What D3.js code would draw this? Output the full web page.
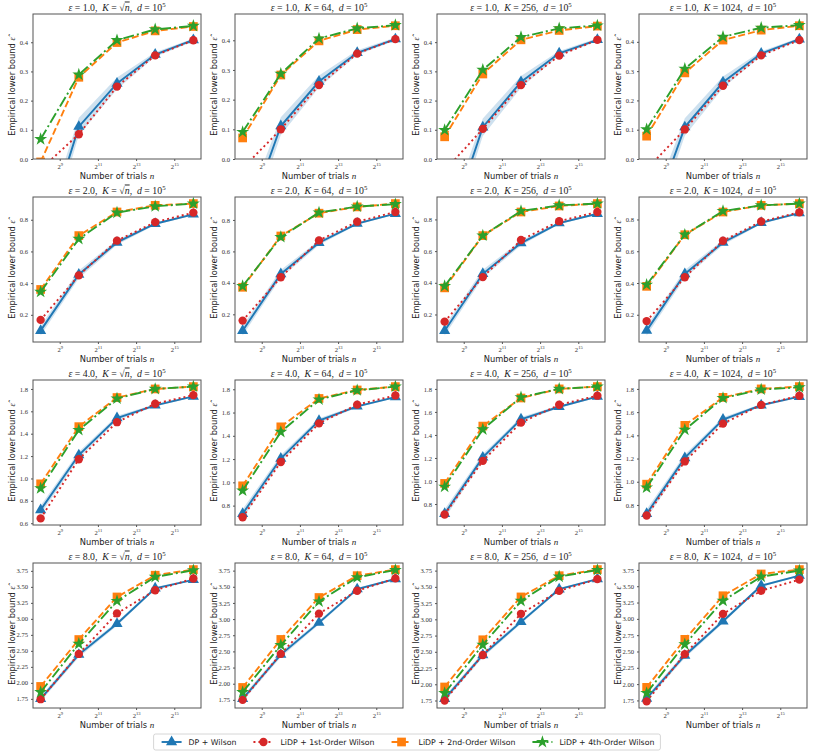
<!DOCTYPE html>
<html>
<head>
<meta charset="utf-8">
<script src="https://cdn.jsdelivr.net/npm/d3@7"></script>
<style>
body{margin:0;background:#fff}
svg{display:block}
.serif{font-family:"Liberation Serif","DejaVu Serif",serif}
.sans{font-family:"DejaVu Sans",sans-serif}
.title{white-space:pre}
</style>
</head>
<body>
<svg id="grid"></svg>
<script>
// number of trials n (x values, log2 axis)
var trials = [256, 1024, 4096, 16384, 65536];
var xTickPowers = [9, 11, 13, 15];

var epsilons = ["1.0", "2.0", "4.0", "8.0"];
var kLabels = ["sqrt", "64", "256", "1024"];

var seriesNames = ["DP + Wilson", "LiDP + 1st-Order Wilson", "LiDP + 2nd-Order Wilson", "LiDP + 4th-Order Wilson"];

// values[row = epsilon][col = K] -> 5 points
var dpWilson = [
  [[-0.31, 0.111, 0.259, 0.358, 0.408], [-0.25, 0.111, 0.261, 0.358, 0.404], [-0.28, 0.109, 0.264, 0.362, 0.408], [-0.254, 0.109, 0.262, 0.36, 0.409]],
  [[0.10, 0.455, 0.657, 0.775, 0.834], [0.096, 0.457, 0.655, 0.777, 0.84], [0.098, 0.457, 0.651, 0.777, 0.836], [0.10, 0.457, 0.655, 0.779, 0.84]],
  [[0.719, 1.209, 1.54, 1.653, 1.733], [0.73, 1.205, 1.53, 1.653, 1.733], [0.715, 1.205, 1.536, 1.645, 1.733], [0.724, 1.205, 1.536, 1.659, 1.733]],
  [[1.75, 2.441, 2.923, 3.478, 3.609], [1.766, 2.451, 2.945, 3.464, 3.62], [1.776, 2.451, 2.961, 3.464, 3.62], [1.781, 2.439, 2.964, 3.508, 3.663]]
];
var lidpFirst = [
  [[-0.035, 0.085, 0.248, 0.355, 0.407], [-0.031, 0.10, 0.249, 0.355, 0.404], [-0.04, 0.103, 0.253, 0.354, 0.408], [-0.035, 0.101, 0.25, 0.354, 0.406]],
  [[0.168, 0.449, 0.668, 0.785, 0.845], [0.16, 0.436, 0.67, 0.789, 0.851], [0.155, 0.436, 0.67, 0.789, 0.847], [0.16, 0.436, 0.666, 0.787, 0.845]],
  [[0.643, 1.172, 1.503, 1.668, 1.745], [0.70, 1.175, 1.507, 1.668, 1.747], [0.709, 1.175, 1.507, 1.662, 1.741], [0.709, 1.175, 1.501, 1.662, 1.741]],
  [[1.745, 2.452, 3.086, 3.447, 3.63], [1.75, 2.462, 3.085, 3.438, 3.63], [1.75, 2.451, 3.085, 3.438, 3.62], [1.735, 2.459, 3.076, 3.431, 3.601]]
];
var lidpSecond = [
  [[-0.01, 0.28, 0.399, 0.439, 0.454], [0.071, 0.283, 0.398, 0.436, 0.449], [0.076, 0.291, 0.408, 0.44, 0.455], [0.078, 0.294, 0.406, 0.44, 0.455]],
  [[0.36, 0.70, 0.849, 0.891, 0.902], [0.372, 0.698, 0.843, 0.883, 0.904], [0.368, 0.698, 0.847, 0.885, 0.90], [0.379, 0.704, 0.847, 0.889, 0.90]],
  [[0.952, 1.463, 1.723, 1.80, 1.821], [0.97, 1.477, 1.721, 1.794, 1.823], [0.979, 1.477, 1.721, 1.80, 1.82], [0.979, 1.486, 1.727, 1.80, 1.82]],
  [[1.944, 2.677, 3.342, 3.682, 3.77], [1.942, 2.685, 3.334, 3.672, 3.766], [1.958, 2.685, 3.345, 3.672, 3.766], [1.95, 2.686, 3.354, 3.688, 3.755]]
];
var lidpFourth = [
  [[0.068, 0.289, 0.407, 0.444, 0.456], [0.091, 0.287, 0.406, 0.44, 0.451], [0.099, 0.305, 0.417, 0.447, 0.457], [0.101, 0.308, 0.417, 0.448, 0.457]],
  [[0.345, 0.679, 0.845, 0.885, 0.902], [0.379, 0.691, 0.847, 0.885, 0.90], [0.379, 0.698, 0.853, 0.889, 0.90], [0.389, 0.704, 0.853, 0.889, 0.90]],
  [[0.912, 1.433, 1.714, 1.80, 1.821], [0.929, 1.433, 1.712, 1.791, 1.823], [0.95, 1.448, 1.727, 1.80, 1.82], [0.95, 1.448, 1.721, 1.794, 1.814]],
  [[1.855, 2.609, 3.279, 3.656, 3.76], [1.869, 2.597, 3.272, 3.646, 3.76], [1.864, 2.607, 3.283, 3.657, 3.76], [1.863, 2.609, 3.277, 3.647, 3.74]]
];
// half width of the shaded band around DP + Wilson, per row
var dpBand = [
  [0.05, 0.03, 0.02, 0.008, 0.005],
  [0.03, 0.025, 0.015, 0.008, 0.005],
  [0.04, 0.03, 0.02, 0.01, 0.008],
  [0.04, 0.04, 0.03, 0.02, 0.01]
];

var yTicksByRow = [
  [0, 0.1, 0.2, 0.3, 0.4],
  [0.2, 0.4, 0.6, 0.8],
  [0.6, 0.8, 1.0, 1.2, 1.4, 1.6, 1.8],
  [1.75, 2.0, 2.25, 2.5, 2.75, 3.0, 3.25, 3.5, 3.75]
];

var allSeries = [dpWilson, lidpFirst, lidpSecond, lidpFourth];
var colors = ["#1f77b4", "#d62728", "#ff7f0e", "#2ca02c"];
var dashes = [null, "2,3", "7,3", "11,3,2,3"];
var symbols = [d3.symbolTriangle, d3.symbolCircle, d3.symbolSquare, d3.symbolStar];
var symbolSizes = [54, 55, 76, 52];

var makeTranslateString = function(x, y)
{
    return "translate(" + x + "," + y + ")";
}

// title: epsilon = .., K = .., d = 10^5
var drawTitle = function(g, row, col, box)
{
    var t = g.append("text")
        .classed("serif", true)
        .classed("title", true)
        .attr("x", box.width / 2)
        .attr("y", -3.5)
        .attr("text-anchor", "middle")
        .attr("font-size", 9.8)
        .attr("fill", "#222");
    t.append("tspan").attr("font-style", "italic").text("ε");
    t.append("tspan").text(" = " + epsilons[row] + ",  ");
    t.append("tspan").attr("font-style", "italic").text("K");
    t.append("tspan").text(" = ");
    if (kLabels[col] == "sqrt") {
        t.append("tspan").text("√");
        t.append("tspan").attr("font-style", "italic")
            .style("text-decoration", "overline").text("n");
    } else {
        t.append("tspan").text(kLabels[col]);
    }
    t.append("tspan").text(",  ");
    t.append("tspan").attr("font-style", "italic").text("d");
    t.append("tspan").text(" = 10");
    t.append("tspan").attr("font-size", 6.8).attr("dy", -3.5).text("5");
}

var drawAxes = function(g, row, box, xScale, yScale)
{
    var yAxis = d3.axisLeft(yScale)
        .tickValues(yTicksByRow[row].filter(function(v) {
            return v >= yScale.domain()[0] - 1e-9 && v <= yScale.domain()[1];
        }))
        .tickSize(2)
        .tickPadding(3)
        .tickFormat(d3.format(row == 3 ? ".2f" : ".1f"));

    var ya = g.append("g").call(yAxis);
    ya.select(".domain").remove();
    ya.selectAll("line").attr("stroke", "#555");
    ya.selectAll("text").classed("serif", true)
        .attr("font-size", 6.6).attr("font-family", null).attr("fill", "#333");

    var xAxis = d3.axisBottom(xScale)
        .tickValues(xTickPowers.map(function(p) { return Math.pow(2, p); }))
        .tickSize(2)
        .tickFormat("");
    var xa = g.append("g").attr("transform", makeTranslateString(0, box.height)).call(xAxis);
    xa.select(".domain").remove();
    xa.selectAll("line").attr("stroke", "#555");
    xa.selectAll(".tick").append("text")
        .classed("serif", true)
        .attr("y", 9.5)
        .attr("text-anchor", "middle")
        .attr("font-size", 6.6)
        .attr("fill", "#333")
        .each(function(d) {
            var t = d3.select(this);
            t.append("tspan").text("2");
            t.append("tspan").attr("font-size", 4.6).attr("dy", -3)
                .text(Math.round(Math.log2(d)));
        });
}

var drawLabels = function(g, box)
{
    var xl = g.append("text")
        .classed("sans", true)
        .attr("x", box.width / 2)
        .attr("y", box.height + 19.5)
        .attr("text-anchor", "middle")
        .attr("font-size", 8.3)
        .attr("fill", "#222");
    xl.append("tspan").text("Number of trials ");
    xl.append("tspan").classed("serif", true).attr("font-style", "italic")
        .attr("font-size", 9).text("n");

    var yl = g.append("text")
        .classed("sans", true)
        .attr("transform", makeTranslateString(-18, box.height / 2) + " rotate(-90)")
        .attr("text-anchor", "middle")
        .attr("font-size", 8.3)
        .attr("fill", "#222");
    yl.append("tspan").text("Empirical lower bound ");
    yl.append("tspan").classed("serif", true).attr("font-style", "italic")
        .attr("font-size", 8.5).text("ε\u0302");
}

var drawPanel = function(svg, row, col, box)
{
    var g = svg.append("g")
        .attr("transform", makeTranslateString(box.left, box.top));

    var xScale = d3.scaleLog().base(2)
        .domain([Math.pow(2, 7.6), Math.pow(2, 16.4)])
        .range([0, box.width]);

    // autoscale like matplotlib: data extent (incl. band) plus 5% margin
    var lo = [], hi = [];
    allSeries.forEach(function(s) { lo = lo.concat(s[row][col]); hi = hi.concat(s[row][col]); });
    dpWilson[row][col].forEach(function(v, i) {
        lo.push(v - dpBand[row][i]); hi.push(v + dpBand[row][i]);
    });
    var ymin = d3.min(lo), ymax = d3.max(hi);
    var pad = 0.05 * (ymax - ymin);
    var yDomain = [ymin - pad, ymax + pad];
    if (row == 0) yDomain[0] = 0;

    var yScale = d3.scaleLinear().domain(yDomain).range([box.height, 0]);

    var clipId = "clip" + row + "_" + col;
    g.append("clipPath").attr("id", clipId)
        .append("rect").attr("width", box.width).attr("height", box.height);

    var plot = g.append("g").attr("clip-path", "url(#" + clipId + ")");

    var band = d3.area()
        .x(function(d, i) { return xScale(trials[i]); })
        .y0(function(d, i) { return yScale(d - dpBand[row][i]); })
        .y1(function(d, i) { return yScale(d + dpBand[row][i]); });

    plot.append("path")
        .datum(dpWilson[row][col])
        .attr("d", band)
        .attr("fill", colors[0])
        .attr("fill-opacity", 0.22);

    var line = d3.line()
        .x(function(d, i) { return xScale(trials[i]); })
        .y(function(d) { return yScale(d); });

    allSeries.forEach(function(s, k) {
        var vals = s[row][col];
        plot.append("path")
            .datum(vals)
            .attr("d", line)
            .attr("fill", "none")
            .attr("stroke", colors[k])
            .attr("stroke-width", 1.9)
            .attr("stroke-dasharray", dashes[k]);

        plot.selectAll(".m" + k)
            .data(vals)
            .enter()
            .append("path")
            .attr("class", "m" + k)
            .attr("transform", function(d, i) {
                return makeTranslateString(xScale(trials[i]), yScale(d));
            })
            .attr("d", d3.symbol().type(symbols[k]).size(symbolSizes[k]))
            .attr("fill", colors[k]);
    });

    g.append("rect")
        .attr("width", box.width)
        .attr("height", box.height)
        .attr("fill", "none")
        .attr("stroke", "#555")
        .attr("stroke-width", 1);

    drawAxes(g, row, box, xScale, yScale);
    drawTitle(g, row, col, box);
    drawLabels(g, box);
}

var drawLegend = function(svg, screen)
{
    var legend = svg.append("g").classed("legend", true);
    var box = legend.append("rect")
        .attr("rx", 2)
        .attr("fill", "#fff")
        .attr("stroke", "#ccc")
        .attr("stroke-width", 0.8);

    var x = 8, gap = 17;
    seriesNames.forEach(function(name, k) {
        var e = legend.append("g").attr("transform", makeTranslateString(x, 0));
        e.append("line")
            .attr("x1", 0).attr("x2", 20).attr("y1", 0).attr("y2", 0)
            .attr("stroke", colors[k])
            .attr("stroke-width", 1.9)
            .attr("stroke-dasharray", dashes[k]);
        e.append("path")
            .attr("transform", makeTranslateString(10, 0))
            .attr("d", d3.symbol().type(symbols[k]).size(symbolSizes[k]))
            .attr("fill", colors[k]);
        var t = e.append("text")
            .classed("sans", true)
            .attr("x", 27)
            .attr("y", 2.8)
            .attr("font-size", 7.8)
            .attr("fill", "#222")
            .text(name);
        x += 27 + t.node().getComputedTextLength() + gap;
    });
    var w = x - gap + 6;
    box.attr("x", 0).attr("y", -8).attr("width", w).attr("height", 16);
    legend.attr("transform", makeTranslateString((screen.width - w) / 2, 742));
}

var initGraph = function()
{
    var screen = {width: 814, height: 754};
    var panel = {left: 33, top: 14, width: 168, height: 145, dx: 202, dy: 183};

    var svg = d3.select("#grid")
        .attr("width", screen.width)
        .attr("height", screen.height);

    for (var row = 0; row < epsilons.length; row++) {
        for (var col = 0; col < kLabels.length; col++) {
            drawPanel(svg, row, col, {
                left: panel.left + col * panel.dx,
                top: panel.top + row * panel.dy,
                width: panel.width,
                height: panel.height
            });
        }
    }
    drawLegend(svg, screen);
}

initGraph();
</script>
</body>
</html>
